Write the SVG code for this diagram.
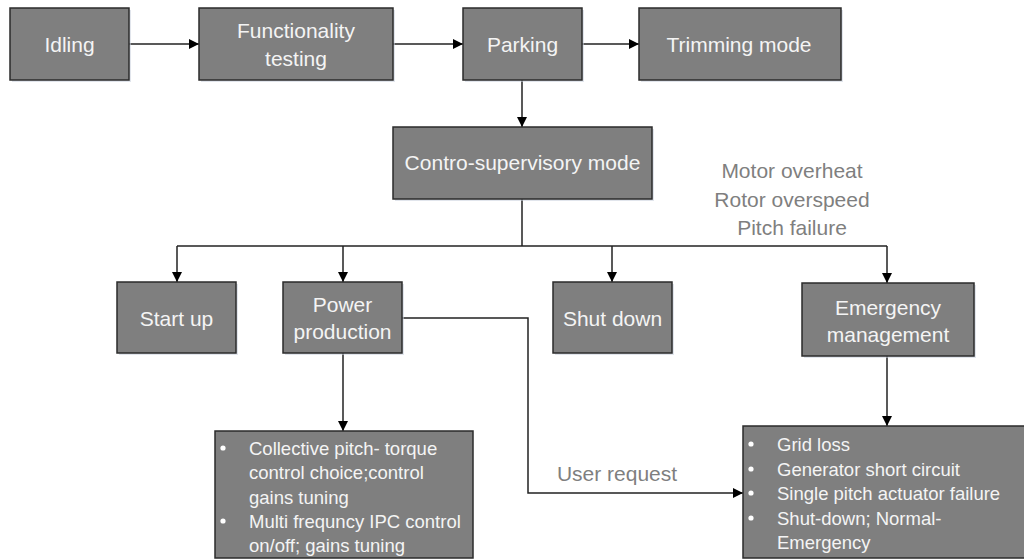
<svg xmlns="http://www.w3.org/2000/svg" width="1024" height="560" viewBox="0 0 1024 560">
  <style>
    .box { fill: #7f7f7f; stroke: #2b2b2b; stroke-width: 1.5; }
    .shadow { fill: #c9d0dc; opacity: 0.55; }
    .lbl { font-family: "Liberation Sans", Arial, sans-serif; font-size: 21px; fill: #f4f4f4; text-anchor: middle; dominant-baseline: central; }
    .item { font-family: "Liberation Sans", Arial, sans-serif; font-size: 18.5px; fill: #f4f4f4; dominant-baseline: central; }
    .note { font-family: "Liberation Sans", Arial, sans-serif; font-size: 21px; fill: #7f7f7f; text-anchor: middle; dominant-baseline: central; }
    .bullet { fill: #ffffff; }
    .wire { fill: none; stroke: #222222; stroke-width: 1.5; }
  </style>
  <defs>
    <marker id="arrow" viewBox="0 0 10 10" refX="10" refY="5" markerWidth="10" markerHeight="10" markerUnits="userSpaceOnUse" orient="auto">
      <path d="M0,0 L10,5 L0,10 Z" fill="#000000"/>
    </marker>
  </defs>

  <rect width="1024" height="560" fill="#ffffff"/>

  <!-- connectors -->
  <g id="connectors">
    <line class="wire" x1="129" y1="44" x2="199" y2="44" marker-end="url(#arrow)"/>
    <line class="wire" x1="393" y1="44" x2="463" y2="44" marker-end="url(#arrow)"/>
    <line class="wire" x1="582" y1="44" x2="639" y2="44" marker-end="url(#arrow)"/>
    <line class="wire" x1="522" y1="80" x2="522" y2="127" marker-end="url(#arrow)"/>
    <line class="wire" x1="522" y1="199" x2="522" y2="246" stroke-width="2"/>
    <line class="wire" x1="177" y1="246" x2="887" y2="246"/>
    <line class="wire" x1="177" y1="246" x2="177" y2="282" marker-end="url(#arrow)"/>
    <line class="wire" x1="343" y1="246" x2="343" y2="282" marker-end="url(#arrow)"/>
    <line class="wire" x1="612" y1="246" x2="612" y2="282" marker-end="url(#arrow)"/>
    <line class="wire" x1="887" y1="246" x2="887" y2="283" marker-end="url(#arrow)"/>
    <line class="wire" x1="343" y1="353" x2="343" y2="431" marker-end="url(#arrow)"/>
    <line class="wire" x1="887" y1="356" x2="887" y2="426" marker-end="url(#arrow)"/>
    <polyline class="wire" points="402,318 528,318 528,493 743,493" marker-end="url(#arrow)"/>
  </g>

  <!-- free labels -->
  <g id="fault-labels">
    <text class="note" x="792" y="170">Motor overheat</text>
    <text class="note" x="792" y="199">Rotor overspeed</text>
    <text class="note" x="792" y="227">Pitch failure</text>
  </g>
  <text id="user-request" class="note" x="617" y="473">User request</text>

  <!-- nodes -->
  <g id="idling">
    <rect class="shadow" x="12" y="10" width="119" height="72"/>
    <rect class="box" x="10" y="8" width="119" height="72"/>
    <text class="lbl" x="69.5" y="44">Idling</text>
  </g>
  <g id="functionality-testing">
    <rect class="shadow" x="201" y="10" width="194" height="72"/>
    <rect class="box" x="199" y="8" width="194" height="72"/>
    <text class="lbl" x="296" y="30">Functionality</text>
    <text class="lbl" x="296" y="58">testing</text>
  </g>
  <g id="parking">
    <rect class="shadow" x="465" y="10" width="119" height="72"/>
    <rect class="box" x="463" y="8" width="119" height="72"/>
    <text class="lbl" x="522.5" y="44">Parking</text>
  </g>
  <g id="trimming-mode">
    <rect class="shadow" x="641" y="10" width="202" height="72"/>
    <rect class="box" x="639" y="8" width="202" height="72"/>
    <text class="lbl" x="739" y="44">Trimming mode</text>
  </g>
  <g id="supervisory-mode">
    <rect class="shadow" x="395" y="129" width="259" height="72"/>
    <rect class="box" x="393" y="127" width="259" height="72"/>
    <text class="lbl" x="522.5" y="162">Contro-supervisory mode</text>
  </g>
  <g id="start-up">
    <rect class="shadow" x="119" y="284" width="119" height="71"/>
    <rect class="box" x="117" y="282" width="119" height="71"/>
    <text class="lbl" x="176.5" y="318">Start up</text>
  </g>
  <g id="power-production">
    <rect class="shadow" x="285" y="284" width="119" height="71"/>
    <rect class="box" x="283" y="282" width="119" height="71"/>
    <text class="lbl" x="342.5" y="304">Power</text>
    <text class="lbl" x="342.5" y="331">production</text>
  </g>
  <g id="shut-down">
    <rect class="shadow" x="555" y="284" width="119" height="71"/>
    <rect class="box" x="553" y="282" width="119" height="71"/>
    <text class="lbl" x="612.5" y="318">Shut down</text>
  </g>
  <g id="emergency-management">
    <rect class="shadow" x="804" y="285" width="172" height="73"/>
    <rect class="box" x="802" y="283" width="172" height="73"/>
    <text class="lbl" x="888" y="307">Emergency</text>
    <text class="lbl" x="888" y="334">management</text>
  </g>
  <g id="power-production-details">
    <rect class="box" x="215" y="431" width="258" height="127"/>
    <circle class="bullet" cx="223" cy="448" r="2.6"/>
    <circle class="bullet" cx="223" cy="521" r="2.6"/>
    <text class="item" x="249" y="448">Collective pitch- torque</text>
    <text class="item" x="249" y="472">control choice;control</text>
    <text class="item" x="249" y="497">gains tuning</text>
    <text class="item" x="249" y="521">Multi frequncy IPC control</text>
    <text class="item" x="249" y="545">on/off; gains tuning</text>
  </g>
  <g id="emergency-details">
    <rect class="box" x="743" y="426" width="300" height="132"/>
    <circle class="bullet" cx="751" cy="444" r="2.6"/>
    <circle class="bullet" cx="751" cy="469" r="2.6"/>
    <circle class="bullet" cx="751" cy="493" r="2.6"/>
    <circle class="bullet" cx="751" cy="518" r="2.6"/>
    <text class="item" x="777" y="444">Grid loss</text>
    <text class="item" x="777" y="469">Generator short circuit</text>
    <text class="item" x="777" y="493">Single pitch actuator failure</text>
    <text class="item" x="777" y="518">Shut-down; Normal-</text>
    <text class="item" x="777" y="542">Emergency</text>
  </g>
</svg>
